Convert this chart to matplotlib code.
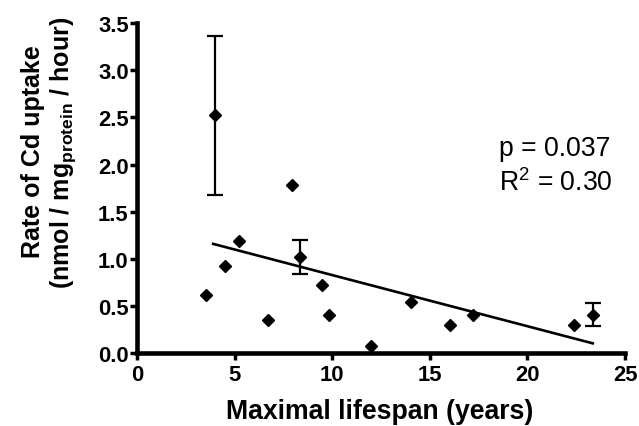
import numpy as np
import matplotlib
matplotlib.use('Agg')
import matplotlib.pyplot as plt

plt.rcParams['font.family'] = ['Liberation Sans', 'DejaVu Sans']
plt.rcParams['mathtext.fontset'] = 'custom'
plt.rcParams['mathtext.rm'] = 'Liberation Sans'
plt.rcParams['mathtext.bf'] = 'Liberation Sans:bold'

# values
lifespan = [3.53, 4.01, 4.52, 5.20, 6.71, 7.92, 8.33, 9.49, 9.83, 12.01,
            14.03, 16.01, 17.22, 22.41, 23.38]
uptake = [0.62, 2.52, 0.93, 1.19, 0.35, 1.78, 1.02, 0.72, 0.41, 0.08,
          0.54, 0.30, 0.41, 0.30, 0.41]
uptake_err = [0, 0.84, 0, 0, 0, 0, 0.18, 0, 0, 0,
              0, 0, 0, 0, 0.12]

# linear regression shown in the figure
fit_slope = -0.0542
fit_intercept = 1.371
fit_range = [3.9, 23.35]

x_ticks = [0, 5, 10, 15, 20, 25]
y_ticks = [0.0, 0.5, 1.0, 1.5, 2.0, 2.5, 3.0, 3.5]

x = np.array(lifespan)
y = np.array(uptake)
err = np.array(uptake_err)

fig = plt.figure(figsize=(6.39, 4.27), dpi=100)
ax = fig.add_axes([137 / 639, 1 - 354.3 / 427, 488 / 639, 330.3 / 427])

# regression line
fx = np.array(fit_range)
ax.plot(fx, fit_intercept + fit_slope * fx, color='black', lw=1.9, zorder=2)

# error bars (only where there is one)
has_err = err > 0
ax.errorbar(x[has_err], y[has_err], yerr=err[has_err], fmt='none',
            ecolor='black', elinewidth=1.6, capsize=5.5, capthick=1.6, zorder=3)

# points
ax.plot(x, y, linestyle='none', marker='D', ms=6.6, color='black',
        clip_on=False, zorder=4)

ax.set_xlim(0, 25)
ax.set_ylim(0, 3.5)
ax.set_xticks(x_ticks)
ax.set_yticks(y_ticks)
ax.set_xticklabels([str(t) for t in x_ticks])
ax.set_yticklabels([f'{t:.1f}' for t in y_ticks])

for side in ['top', 'right']:
    ax.spines[side].set_visible(False)
for side in ['left', 'bottom']:
    ax.spines[side].set_linewidth(3.3)
    ax.spines[side].set_capstyle('projecting')

ax.tick_params(axis='both', direction='out', length=5, width=2.5,
               labelsize=15.8)
ax.tick_params(axis='y', pad=1)
ax.tick_params(axis='x', pad=3)
for lab in ax.get_xticklabels() + ax.get_yticklabels():
    lab.set_fontweight('bold')

# axis titles
fig.text(380 / 639, 1 - 419 / 427, 'Maximal lifespan (years)', ha='center',
         va='baseline', fontsize=19.2, fontweight='bold')
fig.text(33 / 639, 1 - 152 / 427, 'Rate of Cd uptake', rotation=90,
         ha='center', va='center', fontsize=18, fontweight='bold')
fig.text(63 / 639, 1 - 153 / 427,
         r'(nmol / mg$_{\mathbf{protein}}$ / hour)', rotation=90,
         ha='center', va='center', fontsize=18, fontweight='bold')

# statistics
fig.text(499 / 639, 1 - 156 / 427, 'p = 0.037', ha='left', va='baseline',
         fontsize=19.2)
fig.text(499 / 639, 1 - 191 / 427, r'R$^2$ = 0.30', ha='left',
         va='baseline', fontsize=19.2)

fig.savefig('out.png', dpi=100)
